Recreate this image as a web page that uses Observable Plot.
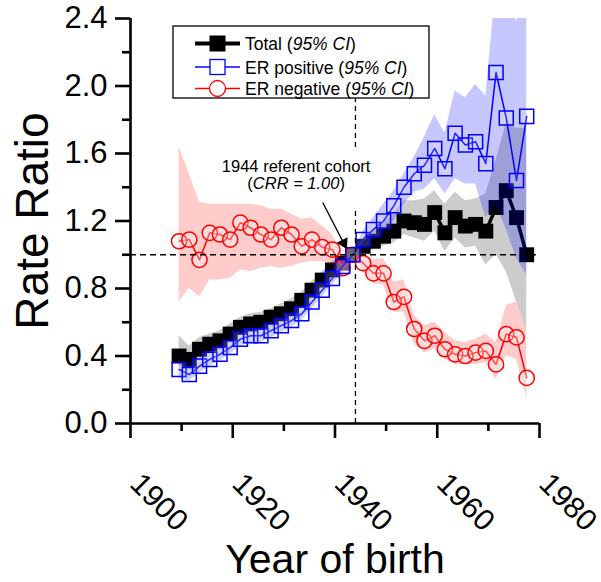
<!DOCTYPE html>
<html><head><meta charset="utf-8">
<script src="https://cdn.jsdelivr.net/npm/d3@7"></script>
<script src="https://cdn.jsdelivr.net/npm/@observablehq/plot@0.6"></script>
<style>
body{margin:0;background:#fff}
svg{font-family:"Liberation Sans",Arial,sans-serif}
</style>
</head><body><div id="chart"></div>
<script>
// ---- data ----
const years = [1909.5,1911.5,1913.5,1915.5,1917.5,1919.5,1921.5,1923.5,1925.5,1927.5,1929.5,1931.5,1933.5,1935.5,1937.5,1939.5,1941.5,1943.5,1945.5,1947.5,1949.5,1951.5,1953.5,1955.5,1957.5,1959.5,1961.5,1963.5,1965.5,1967.5,1969.5,1971.5,1973.5,1975.5,1977.5];

const total   = [0.40,0.38,0.44,0.47,0.49,0.53,0.57,0.59,0.60,0.63,0.65,0.68,0.73,0.79,0.85,0.91,0.95,1.00,1.05,1.08,1.11,1.14,1.20,1.19,1.18,1.25,1.13,1.22,1.17,1.18,1.14,1.28,1.38,1.22,1.00];
const totalLo = [0.34,0.33,0.39,0.42,0.45,0.49,0.53,0.55,0.56,0.59,0.61,0.64,0.69,0.75,0.81,0.87,0.92,1.00,1.00,1.03,1.05,1.07,1.12,1.10,1.08,1.14,1.02,1.10,1.04,1.05,0.94,1.00,0.90,0.72,0.55];
const totalHi = [0.52,0.46,0.51,0.53,0.55,0.59,0.63,0.65,0.66,0.68,0.71,0.74,0.78,0.84,0.90,0.96,0.99,1.00,1.10,1.15,1.19,1.24,1.32,1.32,1.33,1.38,1.30,1.37,1.32,1.33,1.36,1.56,1.78,1.75,1.75];

const erPos   = [0.32,0.29,0.34,0.38,0.41,0.45,0.50,0.52,0.52,0.55,0.58,0.61,0.65,0.72,0.79,0.86,0.93,1.00,1.09,1.15,1.20,1.29,1.40,1.48,1.53,1.63,1.51,1.72,1.65,1.67,1.54,2.08,1.81,1.44,1.82];
const erPosLo = [0.27,0.25,0.30,0.34,0.37,0.41,0.46,0.48,0.48,0.51,0.54,0.57,0.61,0.68,0.75,0.82,0.90,1.00,1.03,1.08,1.12,1.20,1.30,1.37,1.39,1.45,1.36,1.45,1.42,1.42,1.22,1.30,1.15,0.98,0.88];
const erPosHi = [0.37,0.34,0.39,0.43,0.46,0.50,0.55,0.57,0.57,0.60,0.63,0.66,0.70,0.77,0.84,0.91,0.97,1.00,1.14,1.22,1.30,1.38,1.48,1.58,1.70,1.83,1.72,1.97,1.93,2.01,1.94,2.60,2.60,2.38,2.60];

const erNeg   = [1.08,1.09,0.97,1.13,1.12,1.09,1.19,1.16,1.12,1.09,1.16,1.12,1.05,1.09,1.045,1.03,0.92,1.00,0.95,0.89,0.89,0.72,0.75,0.56,0.49,0.52,0.44,0.41,0.40,0.42,0.43,0.35,0.53,0.51,0.27];
const erNegLo = [0.72,0.80,0.75,0.85,0.85,0.86,0.91,0.90,0.92,0.93,0.92,0.93,0.95,0.96,0.96,0.94,0.86,1.00,0.90,0.83,0.82,0.66,0.66,0.47,0.42,0.44,0.38,0.35,0.35,0.35,0.36,0.26,0.40,0.38,0.15];
const erNegHi = [1.64,1.48,1.31,1.30,1.30,1.30,1.30,1.30,1.29,1.27,1.27,1.24,1.21,1.22,1.17,1.12,1.00,1.00,1.00,0.97,0.98,0.84,0.85,0.64,0.58,0.60,0.54,0.49,0.48,0.50,0.53,0.48,0.70,0.72,0.55];

const yMajor = [0.0,0.4,0.8,1.2,1.6,2.0,2.4];
const yMinor = [0.2,0.6,1.0,1.4,1.8,2.2];
const xMajor = [1900,1920,1940,1960,1980];
const xMinor = [1910,1930,1950,1970];

const seriesNames = ["Total", "ER positive", "ER negative"];
const referentYear = 1944;
const referentValue = 1.0;
const refSegments = [{y1: 0, y2: 1.28}, {y1: 1.635, y2: 1.93}];
const noteLines = ["1944 referent cohort", "(CRR = 1.00)"];
const noteAnchor = {x: 1932.5, y1: 1.487, y2: 1.387};
const arrowFrom = {x: 1937.6, y: 1.31};
const arrowTo = {x: 1942.1, y: 1.045};

const rows = years.map((x, i) => ({
  x, total: total[i], totalLo: totalLo[i], totalHi: totalHi[i],
  erPos: erPos[i], erPosLo: erPosLo[i], erPosHi: erPosHi[i],
  erNeg: erNeg[i], erNegLo: erNegLo[i], erNegHi: erNegHi[i]
}));

const BLUE = "#0000ff", RED = "#ff0000";
const arrowAngle = 152.6;

const chart = Plot.plot({
  width: 601, height: 582,
  marginLeft: 130, marginRight: 62, marginTop: 18, marginBottom: 159,
  x: {domain: [1900, 1980]},
  y: {domain: [0, 2.4]},
  style: {fontFamily: "Liberation Sans, Arial, sans-serif", background: "#fff", color: "#000", overflow: "visible"},
  marks: [
    // Total
    Plot.areaY(rows, {x: "x", y1: "totalLo", y2: "totalHi", fill: "#000", fillOpacity: 0.2, clip: true}),
    Plot.line(rows, {x: "x", y: "total", stroke: "#000", strokeWidth: 3.5}),
    Plot.dot(rows, {x: "x", y: "total", symbol: "square", r: 8.4, fill: "#000"}),
    // ER negative
    Plot.areaY(rows, {x: "x", y1: "erNegLo", y2: "erNegHi", fill: RED, fillOpacity: 0.2, clip: true}),
    Plot.line(rows, {x: "x", y: "erNeg", stroke: RED, strokeWidth: 1.5}),
    Plot.dot(rows, {x: "x", y: "erNeg", symbol: "circle", r: 7.6, stroke: RED, strokeWidth: 1.5, fill: "#fff", fillOpacity: 0.3}),
    // ER positive
    Plot.areaY(rows, {x: "x", y1: "erPosLo", y2: "erPosHi", fill: BLUE, fillOpacity: 0.22, clip: true}),
    Plot.line(rows, {x: "x", y: "erPos", stroke: BLUE, strokeWidth: 1.5}),
    Plot.dot(rows, {x: "x", y: "erPos", symbol: "square", r: 7.9, stroke: BLUE, strokeWidth: 1.5, fill: "#fff", fillOpacity: 0.15}),
    // reference lines
    Plot.ruleY([referentValue], {stroke: "#000", strokeWidth: 1.3, strokeDasharray: "6,4"}),
    Plot.ruleX(refSegments, {x: () => referentYear, y1: "y1", y2: "y2", stroke: "#000", strokeWidth: 1.3, strokeDasharray: "5,4"}),
    // annotation arrow
    Plot.link([0], {x1: () => arrowFrom.x, y1: () => arrowFrom.y, x2: () => arrowTo.x, y2: () => arrowTo.y, stroke: "#000", strokeWidth: 1.3}),
    Plot.dot([0], {x: () => arrowTo.x, y: () => arrowTo.y, symbol: "triangle", r: 4.5, fill: "#000", rotate: arrowAngle, dx: -2.0, dy: -4}),
    // axes
    Plot.ruleX([1900], {stroke: "#000", strokeWidth: 2.6}),
    Plot.ruleY([0], {stroke: "#000", strokeWidth: 2.6}),
    Plot.axisY({ticks: yMajor, tickSize: 15, tickPadding: 8, strokeWidth: 2.6, tickFormat: d3.format(".1f"), fontSize: 31, label: null}),
    Plot.axisY({ticks: yMinor, tickSize: 8, strokeWidth: 2.6, tickFormat: () => "", label: null}),
    Plot.axisX({ticks: xMajor, tickSize: 15, strokeWidth: 2.6, tickFormat: () => "", label: null}),
    Plot.axisX({ticks: xMinor, tickSize: 8, strokeWidth: 2.6, tickFormat: () => "", label: null}),
    Plot.text(xMajor, {x: d => d, text: d => String(d), frameAnchor: "bottom", dy: 62, dx: -2, rotate: 45, textAnchor: "start", lineAnchor: "bottom", fontSize: 30}),
    Plot.text(["Year of birth"], {frameAnchor: "bottom", text: d => d, textAnchor: "middle", dy: 149, lineAnchor: "bottom", fontSize: 41}),
    Plot.text(["Rate Ratio"], {frameAnchor: "left", text: d => d, textAnchor: "middle", dx: -83, rotate: -90, lineAnchor: "bottom", fontSize: 46})
  ]
});

document.getElementById("chart").appendChild(chart);

const svg = d3.select(chart);
const xs = chart.scale("x"), ys = chart.scale("y");

// annotation text (rich text with italics)
const note = svg.append("g").attr("font-size", 16.5).attr("text-anchor", "middle").attr("fill", "#000");
note.append("text").attr("x", xs.apply(noteAnchor.x)).attr("y", ys.apply(noteAnchor.y1)).text(noteLines[0]);
const t2 = note.append("text").attr("x", xs.apply(noteAnchor.x)).attr("y", ys.apply(noteAnchor.y2));
t2.append("tspan").text("(");
t2.append("tspan").attr("font-style", "italic").text("CRR = 1.00");
t2.append("tspan").text(")");

// legend
const lg = svg.append("g").attr("transform", "translate(173,26)");
lg.append("rect").attr("width", 256).attr("height", 72).attr("fill", "#fff").attr("stroke", "#000").attr("stroke-width", 1.3);
const legendRows = [
  {name: seriesNames[0], color: "#000", lw: 4, kind: "fsquare", cy: 17.5},
  {name: seriesNames[1], color: BLUE, lw: 1.3, kind: "osquare", cy: 41},
  {name: seriesNames[2], color: RED, lw: 1.3, kind: "circle", cy: 62.5}
];
legendRows.forEach(r => {
  const g = lg.append("g").attr("transform", `translate(0,${r.cy})`);
  g.append("line").attr("x1", 22).attr("x2", 67).attr("stroke", r.color).attr("stroke-width", r.lw);
  if (r.kind === "fsquare") g.append("rect").attr("x", 36.5).attr("y", -8).attr("width", 16).attr("height", 16).attr("fill", "#000");
  if (r.kind === "osquare") g.append("rect").attr("x", 37).attr("y", -7.5).attr("width", 15).attr("height", 15).attr("fill", "#fff").attr("stroke", BLUE).attr("stroke-width", 1.3);
  if (r.kind === "circle") g.append("circle").attr("cx", 44.5).attr("r", 8).attr("fill", "#fff").attr("stroke", RED).attr("stroke-width", 1.3);
  const t = g.append("text").attr("x", 72).attr("y", 6.5).attr("font-size", 17.5).attr("text-anchor", "start").attr("fill", "#000");
  t.append("tspan").text(r.name + " (");
  t.append("tspan").attr("font-style", "italic").text("95% CI");
  t.append("tspan").text(")");
});
</script>
</body></html>
